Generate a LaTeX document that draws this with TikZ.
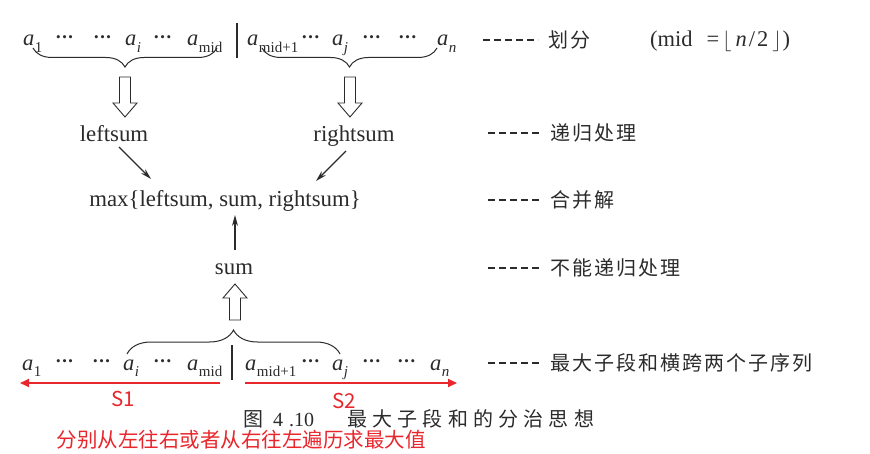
\documentclass[tikz,border=0pt]{standalone}
\usepackage{fontspec}
\setmainfont{Liberation Serif}
\newfontfamily\cjk{Noto Sans CJK SC}
\usetikzlibrary{decorations.pathreplacing,arrows.meta}
\definecolor{ink}{HTML}{2B2B2B}
\definecolor{redc}{HTML}{E8262B}
\newcommand\av[1]{\textit{a}\kern0.5pt\raisebox{-0.28em}{\fontsize{15}{15}\selectfont #1}}
\newcommand\dts{\raisebox{4.5pt}{\fontsize{13}{13}\selectfont\textbullet\kern1.6pt\textbullet\kern1.6pt\textbullet}}
\tikzset{
  el/.style={anchor=base west, inner sep=0pt, font=\fontsize{22.5}{24}\selectfont, text=ink},
  word/.style={anchor=base, inner sep=0pt, font=\fontsize{22.8}{24}\selectfont, text=ink},
  lbl/.style={anchor=west, inner sep=0pt, font=\cjk\fontsize{20}{22}\selectfont\addfontfeature{LetterSpace=10}, text=ink},
  dashl/.style={draw=ink, line width=1.2pt, dash pattern=on 7pt off 4pt},
  brc/.style={draw=ink, line width=1pt, decorate},
  bar/.style={draw=ink, line width=1.3pt},
  arr/.style={draw=ink, line width=1.2pt, -{Stealth[length=11pt,width=6pt]}},
  redarr/.style={draw=redc, line width=1.8pt, -{Triangle[length=9pt,width=8pt]}},
  redtxt/.style={inner sep=0pt, text=redc, font=\cjk\fontsize{20.5}{22}\selectfont},
  hdown/.pic={\draw[ink, line width=0.9pt, fill=white] (-5.5,0) -- (5.5,0) -- (5.5,26) -- (12,26) -- (0,40) -- (-12,26) -- (-5.5,26) -- cycle;},
  hup/.pic={\draw[ink, line width=0.9pt, fill=white] (-5.5,0) -- (5.5,0) -- (5.5,-22) -- (12,-22) -- (0,-36) -- (-12,-22) -- (-5.5,-22) -- cycle;}
}
\begin{document}
\begin{tikzpicture}[x=1pt,y=-1pt]
\useasboundingbox (0,0) rectangle (870,454);
% top row
\node[el] (t1) at (23,46) {\av{1}};
\node[el] (t2) at (56,46) {\dts};
\node[el] (t3) at (94,46) {\dts};
\node[el] (t4) at (125,46) {\av{\textit{i}}};
\node[el] (t5) at (154,46) {\dts};
\node[el] (t6) at (187,46) {\av{mid}};
\node[el] (t7) at (247,46) {\av{mid+1}};
\node[el] (t8) at (302,46) {\dts};
\node[el] (t9) at (332,46) {\av{\textit{j}}};
\node[el] (t10) at (363,46) {\dts};
\node[el] (t11) at (399,46) {\dts};
\node[el] (t12) at (437,46) {\av{\textit{n}}};
\draw[bar] (237,23) -- (237,58);
\draw[brc, decoration={brace, amplitude=19pt}] (217,48) -- (33,48);
\draw[brc, decoration={brace, amplitude=19pt}] (437,48) -- (262,48);
\pic at (125,77) {hdown};
\pic at (350,77) {hdown};
% middle
\node[word] (ls) at (114,142) {leftsum};
\node[word] (rs) at (354,142) {rightsum};
\node[word] (mx) at (225,207) {max\{leftsum, sum, rightsum\}};
\node[word] (sm) at (234,275) {sum};
\draw[arr] ([shift={(5,5)}]ls.base) -- ([shift={(-74,-28)}]mx.base);
\draw[arr] ([shift={(-8,9)}]rs.base) -- ([shift={(91,-26)}]mx.base);
\draw[arr] ([shift={(1,-25)}]sm.base) -- ([shift={(10,8)}]mx.base);
\pic at (235,320) {hup};
% bottom row
\node[el] (b1) at (22,370) {\av{1}};
\node[el] (b2) at (56,370) {\dts};
\node[el] (b3) at (93,370) {\dts};
\node[el] (b4) at (123,370) {\av{\textit{i}}};
\node[el] (b5) at (154,370) {\dts};
\node[el] (b6) at (187,370) {\av{mid}};
\node[el] (b7) at (245,370) {\av{mid+1}};
\node[el] (b8) at (302,370) {\dts};
\node[el] (b9) at (332,370) {\av{\textit{j}}};
\node[el] (b10) at (363,370) {\dts};
\node[el] (b11) at (398,370) {\dts};
\node[el] (b12) at (430,370) {\av{\textit{n}}};
\draw[bar] (232,345) -- (232,380);
\draw[brc, decoration={brace, amplitude=24pt}] (127,354) -- (340,354);
% red annotations
\coordinate (l1) at (220,383); \coordinate (l2) at (20,383);
\coordinate (r1) at (245,383); \coordinate (r2) at (457,383);
\draw[redarr] (l1) -- (l2);
\draw[redarr] (r1) -- (r2);
\node[redtxt, anchor=base, text depth=0pt] (s1) at (123,406) {S1};
\node[redtxt, anchor=base, text depth=0pt] (s2) at (344,408) {S2};
\node[inner sep=0pt, anchor=base west, text=ink, text height=15pt, text depth=2pt, font=\fontsize{20}{22}\selectfont] (cap) at (243,426)
  {{\cjk 图}\hspace{10pt}4\hspace{6pt}.10\hspace{33pt}{\cjk\addfontfeature{LetterSpace=26}最大子段和的分治思想}};
\node[redtxt] (note) at (241,440) {分别从左往右或者从右往左遍历求最大值};
% right labels
\coordinate (d1a) at (483,40); \coordinate (d1b) at (538,40);
\coordinate (d2a) at (488,133); \coordinate (d2b) at (542,133);
\coordinate (d3a) at (488,200); \coordinate (d3b) at (542,200);
\coordinate (d4a) at (488,268); \coordinate (d4b) at (542,268);
\coordinate (d5a) at (488,363); \coordinate (d5b) at (542,363);
\draw[dashl] (d1a) -- (d1b);
\draw[dashl] (d2a) -- (d2b);
\draw[dashl] (d3a) -- (d3b);
\draw[dashl] (d4a) -- (d4b);
\draw[dashl] (d5a) -- (d5b);
\node[lbl] (L1) at (548,40) {划分};
\node[el] (mid) at (650,47) {(mid\hspace{14pt}=\hspace{3pt}$\Big\lfloor$\hspace{4pt}\textit{n}\kern2pt/\kern2pt2\hspace{4pt}$\Big\rfloor$\hspace{1pt})};
\node[lbl] (L2) at (550,133) {递归处理};
\node[lbl] (L3) at (550,200) {合并解};
\node[lbl] (L4) at (550,268) {不能递归处理};
\node[lbl] (L5) at (550,363) {最大子段和横跨两个子序列};
\end{tikzpicture}
\end{document}
